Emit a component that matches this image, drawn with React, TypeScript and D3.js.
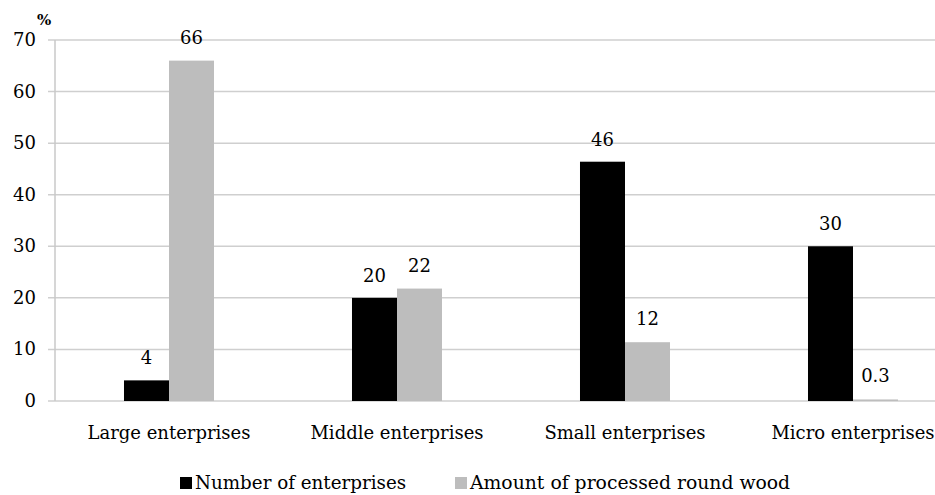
import React from "react";
import * as d3 from "d3";

const categories = ["Large enterprises", "Middle enterprises", "Small enterprises", "Micro enterprises"];
const numberOfEnterprises = [4.0, 20, 46.4, 30];
const processedRoundWood = [66, 21.8, 11.4, 0.3];
const numberLabels = ["4", "20", "46", "30"];
const woodLabels = ["66", "22", "12", "0.3"];
const yTicks = [0, 10, 20, 30, 40, 50, 60, 70];
const seriesNames = ["Number of enterprises", "Amount of processed round wood"];
const seriesColors = ["#000000", "#bdbdbd"];

const W = 935;
const H = 495;
const FONT = "DejaVu Serif, serif";

function T({ x, y, anchor = "middle", size = 18, weight = "normal", children }: any) {
  return (
    <text x={x} y={y} textAnchor={anchor} fontFamily={FONT} fontSize={size} fontWeight={weight} fill="#000">
      {children}
    </text>
  );
}

export default function App() {
  const left = 55;
  const y = d3.scaleLinear().domain([0, 70]).range([401, 40]);
  const x0 = d3.scaleBand<string>().domain(categories).range([left, left + 4 * 228]).padding(0);
  const x1 = d3
    .scaleBand<string>()
    .domain(["n", "a"])
    .range([0, x0.bandwidth()])
    .paddingInner(0)
    .paddingOuter(1.533);

  return (
    <svg width={W} height={H} style={{ position: "absolute", left: 0, top: 0, background: "#fff" }}>
      <rect x={0} y={0} width={W} height={H} fill="#fff" />
      {yTicks.map((t) => (
        <g key={t}>
          <line x1={48} x2={W} y1={y(t)} y2={y(t)} stroke="#cfcfcf" strokeWidth={1.5} />
          <T x={36} y={y(t) + 6} anchor="end" size={18}>
            {t}
          </T>
        </g>
      ))}
      <line x1={left} x2={left} y1={y(70)} y2={y(0)} stroke="#c8c8c8" strokeWidth={1.5} />
      <T x={37} y={25} anchor="start" size={15} weight="bold">
        %
      </T>
      {categories.map((c, i) => {
        const bx = x0(c)!;
        const nx = bx + x1("n")!;
        const ax = bx + x1("a")!;
        const bw = x1.bandwidth();
        return (
          <g key={c}>
            <rect
              x={nx}
              y={y(numberOfEnterprises[i])}
              width={bw}
              height={y(0) - y(numberOfEnterprises[i])}
              fill={seriesColors[0]}
            />
            <rect
              x={ax}
              y={y(processedRoundWood[i])}
              width={bw}
              height={Math.max(1, y(0) - y(processedRoundWood[i]))}
              fill={seriesColors[1]}
            />
            <T x={nx + bw / 2} y={y(numberOfEnterprises[i]) - 16} size={18}>
              {numberLabels[i]}
            </T>
            <T x={ax + bw / 2} y={y(processedRoundWood[i]) - 17} size={18}>
              {woodLabels[i]}
            </T>
            <T x={bx + x0.bandwidth() / 2} y={439} size={18}>
              {c}
            </T>
          </g>
        );
      })}
      <rect x={180} y={477} width={12} height={12} fill={seriesColors[0]} />
      <T x={195} y={489} anchor="start" size={18.3}>
        {seriesNames[0]}
      </T>
      <rect x={455} y={477} width={12} height={12} fill={seriesColors[1]} />
      <T x={470} y={489} anchor="start" size={18.8}>
        {seriesNames[1]}
      </T>
    </svg>
  );
}
